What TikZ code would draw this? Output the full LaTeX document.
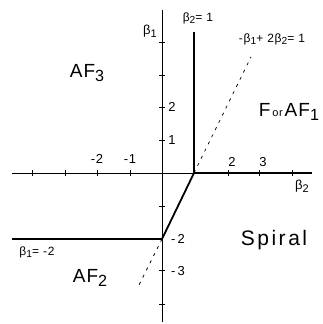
\documentclass[tikz,border=0pt]{standalone}
\usepackage{fontspec}
\setmainfont{Liberation Sans}[LetterSpace=6]
\newfontfamily\widefont{Liberation Sans}[LetterSpace=12]
\newcommand\lsub[1]{\raisebox{-0.4ex}{\scalebox{0.85}{#1}}}
\begin{document}
\begin{tikzpicture}[x=1pt,y=-1pt,
  axisline/.style={line width=0.7pt},
  bound/.style={line width=1.8pt},
  dashline/.style={line width=0.7pt, dash pattern=on 3pt off 5pt},
  tickmark/.style={line width=0.7pt},
  ticklbl/.style={font=\fontsize{13}{14}\selectfont, inner sep=1pt},
  eqlbl/.style={font=\fontsize{12}{13}\selectfont, inner sep=1pt},
  region/.style={font=\fontsize{19}{20}\selectfont, inner sep=1pt}]
\useasboundingbox (0,0) rectangle (322,324);
% axis coordinates
\coordinate (O) at (162,173);
\coordinate (xl) at (12,173);
\coordinate (xr) at (312,173);
\coordinate (yt) at (162,10);
\coordinate (yb) at (162,322);
\coordinate (P) at (194,173);
\coordinate (Q) at (162,239);
\coordinate (Ptop) at (194,32);
\coordinate (Lend) at (12,239);
\coordinate (Dtop) at (251,57);
\coordinate (Dbot) at (137,289);
\coordinate (Rend) at (312,173);
% axes
\draw[axisline] (xl) -- (xr);
\draw[axisline] (yt) -- (yb);
% ticks
\foreach \x in {32,65,97,130,228,259,292}
  \draw[tickmark] (\x,170) -- (\x,176);
\foreach \y in {42,75,107,140,206,270,304}
  \draw[tickmark] (159,\y) -- (165,\y);
% boundaries
\draw[bound] (Ptop) -- (P) -- (Rend);
\draw[bound] (P) -- (Q) -- (Lend);
\draw[dashline] (P) -- (Dtop);
\draw[dashline] (Q) -- (Dbot);
% tick labels
\node[ticklbl] (h1) at (97,159) {-2};
\node[ticklbl] (h2) at (130,159) {-1};
\node[ticklbl] (h3) at (232,162) {2};
\node[ticklbl] (h4) at (263,162) {3};
\node[ticklbl] (v1) at (172,107) {2};
\node[ticklbl] (v2) at (172,140) {1};
\node[ticklbl] (v3) at (178,239) {-\,2};
\node[ticklbl] (v4) at (178,271) {-\,3};
% axis labels
\node[ticklbl] (b1) at (150,31) {β\lsub{1}};
\node[ticklbl] (b2) at (302,186) {β\lsub{2}};
% equations
\node[eqlbl] (e1) at (198,18) {β\lsub{2}= 1};
\node[eqlbl] (e2) at (272,39) {-β\lsub{1}+ 2β\lsub{2}= 1};
\node[eqlbl] (e3) at (37,252) {β\lsub{1}= -2};
% regions
\node[region] (af3) at (87,73) {AF\lsub{3}};
\node[region] (af1) at (289,112) {F{\fontsize{11}{12}\selectfont\,or\,}AF\lsub{1}};
\node[region] (af2) at (90,278) {AF\lsub{2}};
\node[region, font=\fontsize{21}{22}\widefont] (sp) at (274,240) {Spiral};
\end{tikzpicture}
\end{document}
